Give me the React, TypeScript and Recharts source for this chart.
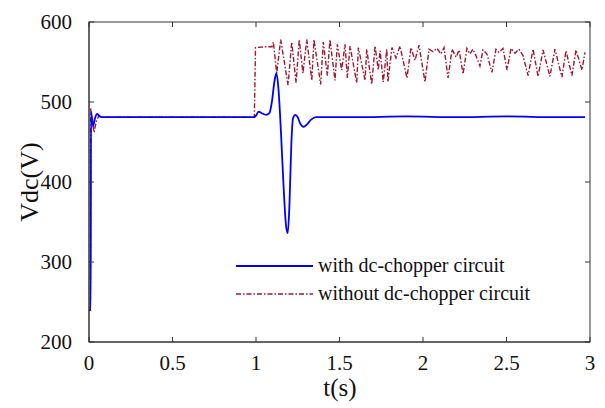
import React from 'react';
import { LineChart, Line, XAxis, YAxis } from 'recharts';

// chart size and plot box (pixels)
const W = 605;
const H = 408;
const PLOT_LEFT = 89;
const PLOT_RIGHT = 590;
const PLOT_TOP = 22;
const PLOT_BOTTOM = 342;
const FONT = '"Liberation Serif", "Times New Roman", serif';

const xTicks = [0, 0.5, 1, 1.5, 2, 2.5, 3];
const yTicks = [200, 300, 400, 500, 600];

// with dc-chopper circuit: [t (s), Vdc (V)]
const withChopper: [number, number][] = [
  [0, 240], [0.01, 240], [0.012, 488], [0.018, 478], [0.025, 470], [0.035, 479],
  [0.05, 485], [0.065, 482], [0.08, 481], [0.3, 481], [0.6, 481], [0.99, 481],
  [1.0, 483], [1.015, 488], [1.035, 486], [1.06, 484], [1.08, 486], [1.095, 500],
  [1.11, 525], [1.122, 536], [1.135, 515], [1.15, 460], [1.165, 395], [1.18, 345],
  [1.19, 336], [1.2, 370], [1.212, 450], [1.222, 480], [1.235, 484], [1.25, 481],
  [1.265, 473], [1.285, 469], [1.305, 472], [1.33, 478], [1.36, 481], [1.6, 481],
  [1.9, 482], [2.2, 481], [2.5, 482], [2.8, 481], [2.97, 481],
];

// without dc-chopper circuit: [t (s), Vdc (V)]
const withoutChopper: [number, number][] = [
  [0, 240], [0.008, 240], [0.01, 492], [0.02, 476], [0.03, 462], [0.045, 477],
  [0.06, 483], [0.08, 481], [0.4, 481], [0.8, 481], [0.99, 481], [0.997, 568],
  [1.05, 569], [1.096, 569], [1.104, 575], [1.124, 536], [1.148, 578], [1.192, 521],
  [1.214, 575], [1.24, 524], [1.259, 578], [1.281, 536], [1.304, 578], [1.334, 527],
  [1.347, 578], [1.387, 522], [1.403, 575], [1.427, 533], [1.443, 578], [1.473, 527],
  [1.487, 572], [1.513, 540], [1.533, 572], [1.547, 530], [1.563, 570], [1.603, 524],
  [1.613, 568], [1.653, 527], [1.663, 566], [1.693, 522], [1.713, 570], [1.732, 540],
  [1.743, 564], [1.762, 525], [1.783, 566], [1.79, 525], [1.814, 568], [1.838, 555],
  [1.862, 570], [1.904, 530], [1.928, 568], [1.952, 552], [1.976, 571], [2.012, 525],
  [2.036, 566], [2.06, 563], [2.084, 567], [2.108, 560], [2.126, 568], [2.15, 530],
  [2.174, 566], [2.198, 556], [2.216, 565], [2.24, 535], [2.263, 567], [2.281, 560],
  [2.299, 566], [2.317, 558], [2.341, 545], [2.359, 565], [2.383, 560], [2.413, 537],
  [2.437, 566], [2.455, 562], [2.479, 567], [2.503, 540], [2.527, 567], [2.551, 561],
  [2.575, 566], [2.599, 558], [2.629, 533], [2.659, 566], [2.689, 532], [2.719, 565],
  [2.76, 532], [2.79, 566], [2.832, 531], [2.856, 564], [2.892, 533], [2.916, 565],
  [2.952, 540], [2.97, 562],
];

const withData = withChopper.map(([t, v]) => ({ t, v }));
const withoutData = withoutChopper.map(([t, v]) => ({ t, v }));

const BLUE = '#0000ff';
const RED = '#a2142f';
const AXIS = '#333';

const textStyle = (size: number) => ({ fontFamily: FONT, fontSize: size, fill: '#111' });

// bottom tick: label below, inward tick marks on bottom and top edges
const XTick = (props: any) => {
  const { x, payload } = props;
  return (
    <g>
      <line x1={x} y1={PLOT_BOTTOM} x2={x} y2={PLOT_BOTTOM - 5} stroke={AXIS} />
      <line x1={x} y1={PLOT_TOP} x2={x} y2={PLOT_TOP + 5} stroke={AXIS} />
      <text x={x} y={PLOT_BOTTOM + 28} textAnchor="middle" style={textStyle(21)}>
        {payload.value}
      </text>
    </g>
  );
};

const YTick = (props: any) => {
  const { y, payload } = props;
  return (
    <g>
      <line x1={PLOT_LEFT} y1={y} x2={PLOT_LEFT + 5} y2={y} stroke={AXIS} />
      <line x1={PLOT_RIGHT} y1={y} x2={PLOT_RIGHT - 5} y2={y} stroke={AXIS} />
      <text x={PLOT_LEFT - 17} y={y + 7} textAnchor="end" style={textStyle(21)}>
        {payload.value}
      </text>
    </g>
  );
};

export default function App() {
  return (
    <div style={{ position: 'absolute', left: 0, top: 0, width: W, height: H, background: '#fff' }}>
      <LineChart
        width={W}
        height={H}
        margin={{ top: PLOT_TOP, right: W - PLOT_RIGHT, bottom: 26, left: 0 }}
      >
        <XAxis
          dataKey="t"
          type="number"
          domain={[0, 3]}
          ticks={xTicks}
          allowDataOverflow
          height={H - PLOT_BOTTOM - 26}
          tickSize={0}
          tickMargin={0}
          tickLine={false}
          axisLine={{ stroke: AXIS }}
          tick={<XTick />}
        />
        <YAxis
          type="number"
          domain={[200, 600]}
          ticks={yTicks}
          allowDataOverflow
          width={PLOT_LEFT}
          tickSize={0}
          tickMargin={0}
          tickLine={false}
          axisLine={{ stroke: AXIS }}
          tick={<YTick />}
        />
        <Line
          data={withoutData}
          dataKey="v"
          type="linear"
          stroke={RED}
          strokeWidth={1.4}
          strokeDasharray="5 2 1.5 2"
          dot={false}
          isAnimationActive={false}
        />
        <Line
          data={withData}
          dataKey="v"
          type="monotone"
          stroke={BLUE}
          strokeWidth={1.8}
          dot={false}
          isAnimationActive={false}
        />
      </LineChart>

      {/* plot frame, axis titles and legend drawn over the chart */}
      <svg
        width={W}
        height={H}
        style={{ position: 'absolute', left: 0, top: 0, pointerEvents: 'none' }}
      >
        <rect
          x={PLOT_LEFT}
          y={PLOT_TOP}
          width={PLOT_RIGHT - PLOT_LEFT}
          height={PLOT_BOTTOM - PLOT_TOP}
          fill="none"
          stroke={AXIS}
        />
        <text x={340} y={396} textAnchor="middle" style={textStyle(25)}>
          t(s)
        </text>
        <text x={38} y={182} textAnchor="middle" transform="rotate(-90 38 182)" style={textStyle(26)}>
          Vdc(V)
        </text>
        <line x1={236} y1={266} x2={313} y2={266} stroke={BLUE} strokeWidth={1.8} />
        <text x={318} y={272} style={textStyle(20)}>
          with dc-chopper circuit
        </text>
        <line x1={236} y1={294} x2={313} y2={294} stroke={RED} strokeWidth={1.4} strokeDasharray="5 2 1.5 2" />
        <text x={318} y={300} style={textStyle(20)}>
          without dc-chopper circuit
        </text>
      </svg>
    </div>
  );
}
